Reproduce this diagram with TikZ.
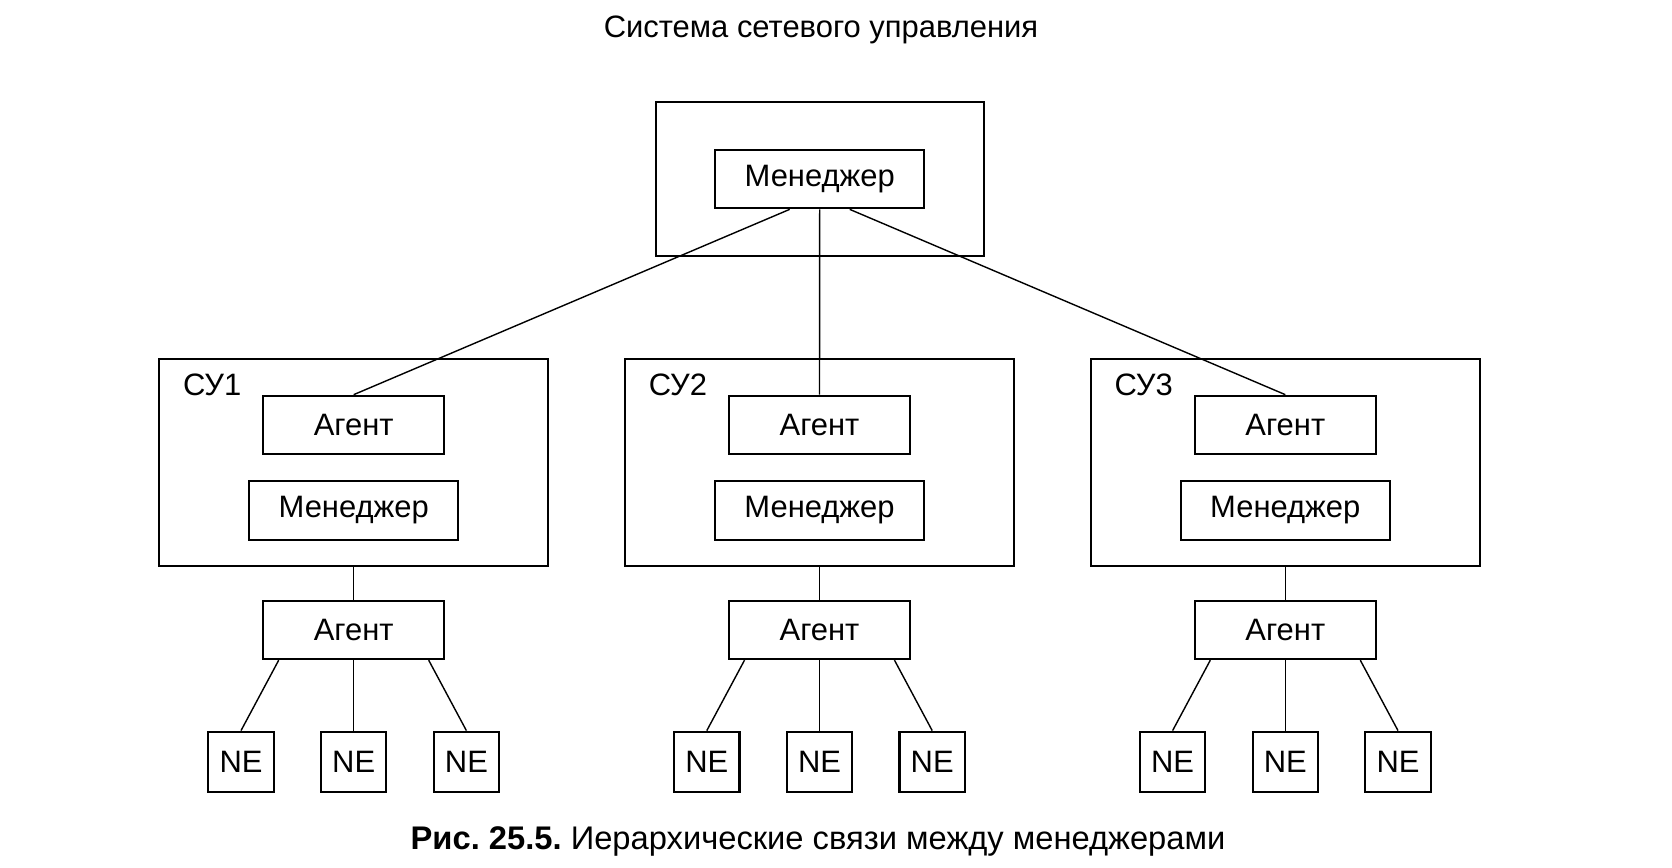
\documentclass[tikz,border=0pt]{standalone}
\usepackage{fontspec}
\setmainfont{Liberation Sans}
\usepackage{tikz}
\usetikzlibrary{calc}
\frenchspacing

\begin{document}
\begin{tikzpicture}[x=0.01cm, y=-0.01cm,
    box/.style={draw, line width=0.6pt, inner sep=0pt, font=\fontsize{8.8pt}{10pt}\selectfont},
    link/.style={line width=0.4pt}]
    \useasboundingbox (0,0) rectangle (1672,868);

    % Title
    \node[font=\fontsize{8.8pt}{10pt}\selectfont, anchor=base] (title) at (821,38) {Система сетевого управления};

    % Top management system
    \node[box, minimum width=3.286cm, minimum height=1.543cm] (top) at (820,178.8) {};
    \node[box, minimum width=2.087cm, minimum height=0.586cm] (mgr) at (819.7,179) {Менеджер};

    % SU1
    \node[box, minimum width=3.89cm, minimum height=2.067cm] (su1) at (353.7,462.3) {};
    \node[font=\fontsize{8.8pt}{10pt}\selectfont, anchor=base west, inner sep=0pt] (lab1) at ($(su1.north west)+(24.3,37.7)$) {СУ1};
    \node[box, minimum width=1.807cm, minimum height=0.583cm] (ag1) at (353.7,424.9) {Агент};
    \node[box, minimum width=2.086cm, minimum height=0.593cm] (mg1) at (353.7,510.4) {Менеджер};
    \node[box, minimum width=1.807cm, minimum height=0.583cm] (la1) at (353.7,630) {Агент};
    \node[box, minimum width=0.653cm, minimum height=0.6cm] (ne11) at (241,761.7) {NE};
    \node[box, minimum width=0.653cm, minimum height=0.6cm] (ne12) at (353.7,761.7) {NE};
    \node[box, minimum width=0.653cm, minimum height=0.6cm] (ne13) at (466.4,761.7) {NE};

    % SU2
    \node[box, minimum width=3.89cm, minimum height=2.067cm] (su2) at (819.5,462.3) {};
    \node[font=\fontsize{8.8pt}{10pt}\selectfont, anchor=base west, inner sep=0pt] (lab2) at ($(su2.north west)+(24.3,37.7)$) {СУ2};
    \node[box, minimum width=1.807cm, minimum height=0.583cm] (ag2) at (819.5,424.9) {Агент};
    \node[box, minimum width=2.086cm, minimum height=0.593cm] (mg2) at (819.5,510.4) {Менеджер};
    \node[box, minimum width=1.807cm, minimum height=0.583cm] (la2) at (819.5,630) {Агент};
    \node[box, minimum width=0.653cm, minimum height=0.6cm] (ne21) at (706.8,761.7) {NE};
    \node[box, minimum width=0.653cm, minimum height=0.6cm] (ne22) at (819.5,761.7) {NE};
    \node[box, minimum width=0.653cm, minimum height=0.6cm] (ne23) at (932.2,761.7) {NE};

    % SU3
    \node[box, minimum width=3.89cm, minimum height=2.067cm] (su3) at (1285.3,462.3) {};
    \node[font=\fontsize{8.8pt}{10pt}\selectfont, anchor=base west, inner sep=0pt] (lab3) at ($(su3.north west)+(24.3,37.7)$) {СУ3};
    \node[box, minimum width=1.807cm, minimum height=0.583cm] (ag3) at (1285.3,424.9) {Агент};
    \node[box, minimum width=2.086cm, minimum height=0.593cm] (mg3) at (1285.3,510.4) {Менеджер};
    \node[box, minimum width=1.807cm, minimum height=0.583cm] (la3) at (1285.3,630) {Агент};
    \node[box, minimum width=0.653cm, minimum height=0.6cm] (ne31) at (1172.6,761.7) {NE};
    \node[box, minimum width=0.653cm, minimum height=0.6cm] (ne32) at (1285.3,761.7) {NE};
    \node[box, minimum width=0.653cm, minimum height=0.6cm] (ne33) at (1398,761.7) {NE};

    % Links from top manager
    \draw[link] ($(mgr.south)+(-30,0)$) -- (ag1.north);
    \draw[link] (mgr.south) -- (ag2.north);
    \draw[link] ($(mgr.south)+(30,0)$) -- (ag3.north);

    % Links to lower agents
    \draw[link] (su1.south) -- (la1.north);
    \draw[link] (su2.south) -- (la2.north);
    \draw[link] (su3.south) -- (la3.north);

    % Links to NE
    \draw[link] ($(la1.south)+(-75,0)$) -- (ne11.north);
    \draw[link] (la1.south) -- (ne12.north);
    \draw[link] ($(la1.south)+(75,0)$) -- (ne13.north);
    \draw[link] ($(la2.south)+(-75,0)$) -- (ne21.north);
    \draw[link] (la2.south) -- (ne22.north);
    \draw[link] ($(la2.south)+(75,0)$) -- (ne23.north);
    \draw[link] ($(la3.south)+(-75,0)$) -- (ne31.north);
    \draw[link] (la3.south) -- (ne32.north);
    \draw[link] ($(la3.south)+(75,0)$) -- (ne33.north);

    % Caption
    \node[font=\fontsize{9.3pt}{11pt}\selectfont, anchor=base] (caption) at (818,850) {\textbf{Рис. 25.5.} Иерархические связи между менеджерами};
\end{tikzpicture}
\end{document}
